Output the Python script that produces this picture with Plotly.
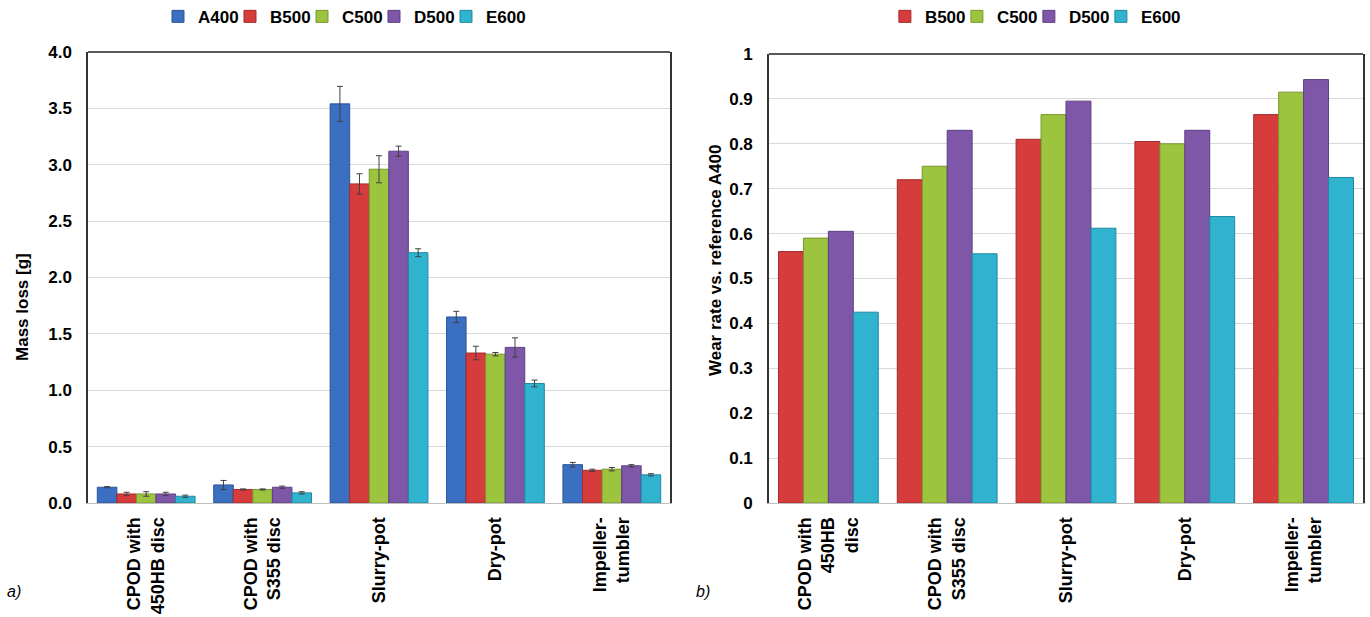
import plotly.graph_objects as go

# ---------------- data ----------------
cats_a = ["CPOD with<br>450HB disc", "CPOD with<br>S355 disc", "Slurry-pot", "Dry-pot", "Impeller-<br>tumbler"]
cats_b = ["CPOD with<br>450HB<br>disc", "CPOD with<br>S355 disc", "Slurry-pot", "Dry-pot", "Impeller-<br>tumbler"]

series_names = ["A400", "B500", "C500", "D500", "E600"]
colors = {"A400": "#3B6FC2", "B500": "#D63C3C", "C500": "#9CC43E", "D500": "#7E57A8", "E600": "#2FB3CF"}
outlines = {"A400": "#2C5599", "B500": "#A52A2A", "C500": "#78982C", "D500": "#5E3F83", "E600": "#2288A0"}

mass_A400 = [0.14, 0.16, 3.54, 1.65, 0.34]
mass_B500 = [0.08, 0.12, 2.83, 1.33, 0.29]
mass_C500 = [0.08, 0.12, 2.96, 1.32, 0.30]
mass_D500 = [0.08, 0.14, 3.12, 1.38, 0.33]
mass_E600 = [0.06, 0.09, 2.22, 1.06, 0.25]

err_A400 = [0.005, 0.04, 0.155, 0.05, 0.02]
err_B500 = [0.015, 0.005, 0.09, 0.06, 0.01]
err_C500 = [0.02, 0.005, 0.12, 0.015, 0.015]
err_D500 = [0.015, 0.01, 0.045, 0.085, 0.01]
err_E600 = [0.01, 0.01, 0.035, 0.03, 0.01]

rel_B500 = [0.56, 0.72, 0.81, 0.805, 0.865]
rel_C500 = [0.59, 0.75, 0.865, 0.80, 0.915]
rel_D500 = [0.605, 0.83, 0.895, 0.83, 0.943]
rel_E600 = [0.425, 0.555, 0.612, 0.638, 0.725]

mass = {"A400": mass_A400, "B500": mass_B500, "C500": mass_C500, "D500": mass_D500, "E600": mass_E600}
errs = {"A400": err_A400, "B500": err_B500, "C500": err_C500, "D500": err_D500, "E600": err_E600}
rel = {"B500": rel_B500, "C500": rel_C500, "D500": rel_D500, "E600": rel_E600}

FONT = "Liberation Sans, Arial, sans-serif"

fig = go.Figure()

for s in series_names:
    fig.add_trace(go.Bar(
        x=cats_a, y=mass[s], name="<b>" + s + "</b>", xaxis="x", yaxis="y",
        marker=dict(color=colors[s], line=dict(color=outlines[s], width=1)),
        error_y=dict(type="data", array=errs[s], color="#404040", thickness=1, width=3),
        legend="legend",
    ))

for s in ["B500", "C500", "D500", "E600"]:
    fig.add_trace(go.Bar(
        x=cats_b, y=rel[s], name="<b>" + s + "</b>", xaxis="x2", yaxis="y2",
        marker=dict(color=colors[s], line=dict(color=outlines[s], width=1)),
        legend="legend2",
    ))

# invisible spacer entries so the last legend label is not clipped
for lg, xa, ya in [("legend", "x", "y"), ("legend2", "x2", "y2")]:
    fig.add_trace(go.Scatter(x=[None], y=[None], mode="markers", name=" ", xaxis=xa, yaxis=ya,
                             marker=dict(color="rgba(0,0,0,0)", size=1), legend=lg,
                             hoverinfo="skip"))

tickfont = dict(family=FONT, size=17, color="#000000")
catfont = dict(family=FONT, size=18, color="#000000")
titlefont = dict(family=FONT, size=17, color="#000000")
legfont = dict(family=FONT, size=17, color="#000000")

common_x = dict(type="category", tickangle=-90, tickfont=catfont, showgrid=False,
                showline=True, linecolor="#BFBFBF", linewidth=1, ticks="", zeroline=False,
                ticklabelstandoff=6)
common_y = dict(showgrid=True, gridcolor="#D9D9D9", gridwidth=1, showline=True, linecolor="#333333",
                linewidth=1.5, mirror=True, ticks="", zeroline=False, tickfont=tickfont,
                ticklabelstandoff=11)

fig.update_layout(
    width=1370, height=617,
    margin=dict(l=88, r=7, t=52, b=114, autoexpand=False),
    paper_bgcolor="white", plot_bgcolor="white",
    font=dict(family=FONT, color="#000000"),
    barmode="group", bargap=0.16, bargroupgap=0.0,
    xaxis=dict(domain=[0, 0.4565], anchor="y", **common_x),
    yaxis=dict(domain=[0, 1], anchor="x", range=[0, 4], dtick=0.5, tickformat=".1f", **common_y),
    xaxis2=dict(domain=[0.5341, 1], anchor="y2", **common_x),
    yaxis2=dict(domain=[0, 0.9956], anchor="x2", range=[0, 1], dtick=0.1, **common_y),
    legend=dict(orientation="h", x=0.0549, xanchor="left", y=1.078, yanchor="middle",
                font=legfont, itemwidth=30,
                entrywidth=27, entrywidthmode="pixels", bgcolor="rgba(0,0,0,0)"),
    legend2=dict(orientation="h", x=0.625, xanchor="left", y=1.078, yanchor="middle",
                 font=legfont, itemwidth=30,
                 entrywidth=27, entrywidthmode="pixels", bgcolor="rgba(0,0,0,0)"),
    showlegend=True,
)

# bold tick labels
fig.update_xaxes(tickprefix="<b>", ticksuffix="</b>")
fig.update_yaxes(tickprefix="<b>", ticksuffix="</b>")

# top border lines of each plot area
for xr, yr in [("x domain", "y domain"), ("x2 domain", "y2 domain")]:
    fig.add_shape(type="line", xref=xr, yref=yr, x0=0, x1=1, y0=1, y1=1,
                  line=dict(color="#222222", width=1.5))

# axis titles (placed as in the reference, not centred on the plot)
fig.add_annotation(text="<b>Mass loss [g]</b>", xref="paper", yref="paper", x=-0.051, y=0.4346,
                   textangle=-90, showarrow=False, font=titlefont, xanchor="center", yanchor="middle")
fig.add_annotation(text="<b>Wear rate vs. reference A400</b>", xref="paper", yref="paper",
                   x=0.4918, y=0.5388, textangle=-90, showarrow=False, font=titlefont,
                   xanchor="center", yanchor="middle")

fig.add_annotation(text="<i>a)</i>", xref="paper", yref="paper", x=-0.058, y=-0.197,
                   showarrow=False, font=dict(family=FONT, size=16), xanchor="center", yanchor="middle")
fig.add_annotation(text="<i>b)</i>", xref="paper", yref="paper", x=0.482, y=-0.197,
                   showarrow=False, font=dict(family=FONT, size=16), xanchor="center", yanchor="middle")

fig.write_html("out.html", config={"displayModeBar": False},
               post_script="document.body.style.margin='0px';")
